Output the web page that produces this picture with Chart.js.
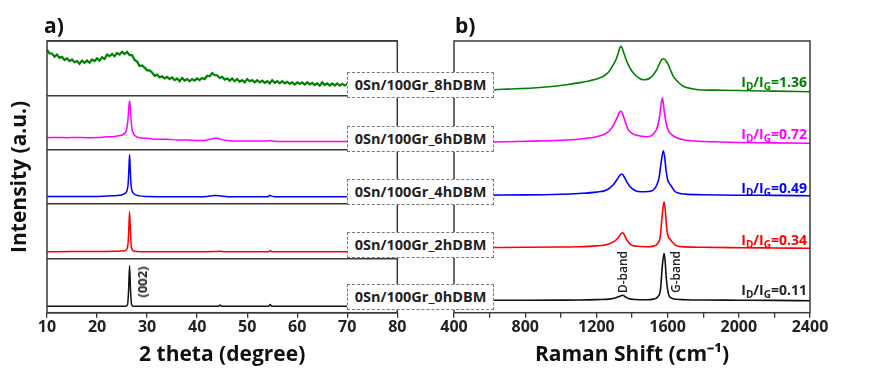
<!DOCTYPE html>
<html>
<head>
<meta charset="utf-8">
<script src="https://cdn.jsdelivr.net/npm/chart.js@4.4.1/dist/chart.umd.min.js"></script>
<style>
  body { margin: 0; background: #fff; font-family: "Open Sans", sans-serif; }
  #wrap { position: relative; width: 870px; height: 377px; overflow: hidden; }
  canvas { position: absolute; top: 0; }
  #xrd { left: 0; }
  #raman { left: 420px; }
  .tag { position: absolute; left: 347px; width: 145px; height: 24px; border: 1px dashed #777; background: #fff;
         color: #222; font-weight: 700; font-size: 14.5px; line-height: 24px; text-align: center; }
  .ratio { position: absolute; right: 63px; font-weight: 700; font-size: 14px; line-height: 16px; transform: translateY(-50%); white-space: nowrap; }
  .ratio sub { font-size: 10px; vertical-align: -3px; line-height: 0; }
  .rot { position: absolute; transform: translate(-50%, -50%) rotate(-90deg); white-space: nowrap; color: #222; }
  .panel { position: absolute; font-size: 21px; font-weight: 700; color: #111; }
</style>
</head>
<body>
<div id="wrap">
  <canvas id="xrd" width="420" height="377"></canvas>
  <canvas id="raman" width="450" height="377"></canvas>
  <div id="overlay"></div>
</div>
<script>
// Noms des échantillons (du bas vers le haut)
const samples = ['0Sn/100Gr_0hDBM', '0Sn/100Gr_2hDBM', '0Sn/100Gr_4hDBM', '0Sn/100Gr_6hDBM', '0Sn/100Gr_8hDBM'];
const ratios = ['0.11', '0.34', '0.49', '0.72', '1.36'];
const colors = ['#111111', '#ff0000', '#0000ff', '#ff00ff', '#008000'];

// DRX : [2theta, intensité] dans chaque sous-panneau (0-100)
const xrd0h = [[10,12],[20,12],[25.8,12],[26.1,15],[26.3,40],[26.5,87],[26.7,40],[26.9,15],[27.2,12],[44.3,12],[44.6,14],[44.9,12],[54.3,12],[54.6,15],[54.9,12],[65,12],[80,12]];
const xrd2h = [[10,12],[15,12.5],[20,12.5],[24,13],[25.5,14],[26.0,18],[26.2,28],[26.35,55],[26.5,86],[26.65,55],[26.8,26],[27.0,16],[27.5,13],[30,12],[40,12],[43.5,12.5],[44.5,13],[45.5,12],[54.3,12],[54.6,14.5],[55,12],[60,12],[70,12],[80,12]];
const xrd4h = [[10,14],[15,14],[20,14],[23,15],[24.5,16],[25.5,19],[26.0,25],[26.2,36],[26.35,60],[26.5,91],[26.65,60],[26.8,34],[27.0,24],[27.5,18],[28.5,15],[30,14],[35,13.5],[40,13.5],[42,14],[43.5,15.5],[44.5,15],[46,13.5],[50,13.5],[54.2,13.5],[54.5,16],[54.8,15],[55.5,13.5],[60,13.5],[70,13.5],[80,13.5]];
const xrd6h = [[10,22],[12,22.5],[14,22],[16,22.5],[18,22],[20,22.5],[21,23],[22,24],[23,24],[24,25],[24.5,26],[25,27],[25.5,30],[25.8,34],[26.0,42],[26.2,58],[26.35,78],[26.5,90],[26.65,78],[26.8,55],[27.0,38],[27.3,29],[27.7,25],[28.5,22],[30,21],[32,19],[34,19],[36,18],[38,18],[40,17],[41,17],[42,18],[42.5,19],[43,20],[43.5,21],[44,21],[44.5,20],[45,18],[46,17],[48,16],[50,16],[52,16],[54,16],[54.6,17],[55,16],[58,15],[60,15],[62,15],[65,15],[70,15],[75,15],[80,15]];
const xrd8h = [[10,84],[10.5,77],[11,77],[11.5,71],[12,75],[12.5,69],[13,71],[13.5,65],[14,68],[14.5,63],[15,66],[15.5,61],[16,63],[16.5,58],[17,64],[17.5,60],[18,64],[18.5,60],[19,66],[19.5,63],
  [20,68],[20.5,64],[21,70],[21.5,67],[22,75],[22.5,72],[23,76],[23.5,72],[24,78],[24.5,75],[25,80],[25.5,76],[26,80],[26.5,74],[27,74],[27.5,65],[28,62],[28.5,54],[29,55],[29.5,51],
  [30,46],[30.5,46],[31,42],[31.5,36],[32,38],[32.5,33],[33,35],[33.5,31],[34,34],[34.5,30],[35,33],[35.5,28],[36,31],[36.5,26],[37,32],[37.5,27],[38,30],[38.5,26],[39,30],[39.5,27],
  [40,31],[40.5,28],[41,32],[41.5,30],[42,36],[42.5,35],[43,41],[43.5,37],[44,37],[44.5,32],[45,34],[45.5,29],[46,31],[46.5,27],[47,31],[47.5,26],[48,30],[48.5,25],[49,28],[49.5,24],
  [50,30],[50.5,26],[51,28],[51.5,24],[52,28],[52.5,24],[53,27],[53.5,23],[54,26],[54.5,22],[55,28],[55.5,23],[56,26],[56.5,22],[57,26],[57.5,22],[58,25],[58.5,21],[59,24],[59.5,20],
  [60,24],[60.5,21],[61,24],[61.5,20],[62,24],[62.5,20],[63,23],[63.5,19],[64,22],[64.5,18],[65,24],[65.5,19],[66,22],[66.5,18],[67,22],[67.5,18],[68,22],[68.5,18],[69,21],[69.5,18],
  [70,21],[72,19],[74,20],[76,18],[78,19],[80,18]];

// Raman : [nombre d'onde, intensité au-dessus de la ligne de base]
const raman0h = [[400,0.4],[600,0.5],[800,0.5],[1000,0.6],[1100,0.7],[1200,1.1],[1280,1.8],[1310,3],[1333,4.5],[1348,5.4],[1362,4],[1380,2.2],[1420,1.2],[1480,1],[1520,1.6],[1545,4],[1560,11],[1570,34],[1580,47.4],[1586,40],[1593,22],[1604,7.4],[1620,2.8],[1650,1.4],[1700,1],[1800,0.7],[2000,0.5],[2200,0.3],[2400,0]];
const raman2h = [[400,0.6],[600,0.8],[800,1],[1000,1.3],[1100,1.5],[1200,2.4],[1260,3.8],[1300,7],[1323,10.5],[1340,15],[1348,15.6],[1358,13],[1372,8],[1395,3.5],[1430,2],[1480,1.6],[1520,2.2],[1545,5],[1558,11],[1569,31.6],[1580,46.6],[1587,38],[1595,20],[1605,11],[1615,9],[1625,6.5],[1650,2.5],[1700,1.4],[1800,1],[2000,0.6],[2200,0.3],[2400,0]];
const raman4h = [[400,0.4],[600,0.6],[800,0.8],[900,1],[1000,1.4],[1100,2.2],[1200,3.6],[1258,5.7],[1295,11],[1314,15.7],[1330,20],[1342,21.7],[1352,20],[1361,17.4],[1375,12.5],[1389,9],[1420,5],[1450,4],[1490,4.2],[1520,5.7],[1540,11],[1552,18],[1563,32.4],[1576,45],[1584,38],[1591,25.7],[1600,16],[1610,12.4],[1623,9],[1640,4.5],[1660,2.8],[1700,1.6],[1800,1],[2000,0.5],[2200,0.3],[2400,0]];
const raman6h = [[400,0.5],[500,1],[619,1.3],[700,1.6],[800,2],[939,2.6],[1030,3.3],[1126,4.6],[1200,6.5],[1239,8.6],[1270,12],[1295,18],[1315,25],[1330,31],[1338,32],[1346,30],[1355,25.3],[1368,18.5],[1379,13.6],[1400,10],[1426,8],[1455,7],[1483,6.6],[1505,7.3],[1520,9.3],[1538,14],[1548,20.3],[1556,28],[1563,38],[1570,45.3],[1576,40],[1581,32],[1588,24],[1594,18],[1607,12],[1623,8.6],[1650,5.5],[1688,3.6],[1730,2.6],[1772,2],[1850,1.5],[2000,0.8],[2200,0.4],[2400,0]];
const raman8h = [[400,1],[500,1.5],[619,2],[700,2.6],[845,3.7],[950,5.2],[1033,7],[1100,8.8],[1164,11],[1210,13.2],[1239,15.4],[1270,20],[1295,27],[1312,33],[1323,38.7],[1336,45.4],[1344,44],[1351,40.4],[1365,33],[1379,27],[1398,21],[1417,17],[1440,13.5],[1464,12],[1485,12.3],[1501,13.7],[1520,17],[1539,22],[1552,27],[1561,30.4],[1571,32.8],[1580,33],[1590,31],[1604,27],[1618,21],[1632,15.4],[1660,9.5],[1688,5.4],[1730,3.2],[1772,2],[1900,1.5],[2063,1],[2200,0.6],[2400,0]];
// Décalage vertical de chaque spectre Raman
const ramanOffsets = [12, 64.4, 117, 169.4, 221];

const xrdTicks = [10, 20, 30, 40, 50, 60, 70, 80];
const ramanTicks = [400, 800, 1200, 1600, 2000, 2400];

const xrdSeries = [xrd0h, xrd2h, xrd4h, xrd6h, xrd8h];
const ramanSeries = [raman0h, raman2h, raman4h, raman6h, raman8h];

const tickFont = { family: 'Open Sans', size: 16, weight: 'bold' };
const titleFont = { family: 'Open Sans', size: 21, weight: 'bold' };

// Cadre autour de la zone de tracé
const framePlugin = {
    id: 'frame',
    afterDraw(chart) {
        const { ctx, chartArea: a } = chart;
        ctx.save();
        ctx.strokeStyle = '#3a3a3a';
        ctx.lineWidth = 1.5;
        ctx.strokeRect(a.left, a.top, a.right - a.left, a.bottom - a.top);
        ctx.restore();
    }
};

function xAxis(min, max, step, ticks, title) {
    return {
        type: 'linear', min: min, max: max,
        ticks: {
            stepSize: step, color: '#222', font: tickFont, padding: 0, maxRotation: 0, autoSkip: false,
            callback: v => ticks.includes(v) ? v : ''
        },
        grid: { drawOnChartArea: false, tickLength: 5, color: '#333', lineWidth: 1.3 },
        border: { display: false },
        title: { display: true, text: title, color: '#111', font: titleFont, padding: { top: 0, bottom: 9 } },
        afterFit(s) { s.height = 64.3; }
    };
}

// Graphique DRX (panneau a)
new Chart(document.getElementById('xrd'), {
    type: 'line',
    data: {
        datasets: xrdSeries.map((s, i) => ({
            data: s.map(p => ({ x: p[0], y: p[1] + i * 100 })),
            borderColor: colors[i],
            borderWidth: i === 4 ? 2.2 : 1.5,
            pointRadius: 0,
            cubicInterpolationMode: i === 4 ? 'default' : 'monotone',
            tension: 0
        }))
    },
    options: {
        responsive: false, animation: false,
        layout: { padding: { top: 41, right: 22.7, bottom: 0, left: 0 } },
        plugins: { legend: { display: false }, tooltip: { enabled: false } },
        scales: {
            x: xAxis(10, 80, 10, xrdTicks, '2 theta (degree)'),
            y: {
                min: 0, max: 500,
                ticks: { stepSize: 100, display: false },
                grid: { drawTicks: false, color: '#3a3a3a', lineWidth: 1.5 },
                border: { display: false },
                title: { display: true, text: 'Intensity (a.u.)', color: '#111', font: titleFont, padding: { top: 7, bottom: 0 } },
                afterFit(s) { s.width = 47; }
            }
        }
    },
    plugins: [framePlugin]
});

// Graphique Raman (panneau b)
new Chart(document.getElementById('raman'), {
    type: 'line',
    data: {
        datasets: ramanSeries.map((s, i) => ({
            data: s.map(p => ({ x: p[0], y: p[1] + ramanOffsets[i] })),
            borderColor: colors[i],
            borderWidth: 1.6,
            pointRadius: 0,
            cubicInterpolationMode: 'monotone'
        }))
    },
    options: {
        responsive: false, animation: false,
        layout: { padding: { top: 41, right: 60, bottom: 0, left: 34 } },
        plugins: { legend: { display: false }, tooltip: { enabled: false } },
        scales: {
            x: xAxis(400, 2400, 200, ramanTicks, ['Raman Shift (cm\u207B\u00B9)']),
            y: { display: false, min: 0, max: 271.7 }
        }
    },
    plugins: [framePlugin]
});

// Étiquettes HTML par-dessus
const overlay = document.getElementById('overlay');
const tagTops = [284, 231.5, 178.5, 126, 72];
const ratioMid = [290, 240, 187.5, 133.5, 82];
let html = '';
samples.forEach((name, i) => {
    html += `<div class="tag" style="top:${tagTops[i]}px">${name}</div>`;
    html += `<div class="ratio" style="top:${ratioMid[i]}px;color:${colors[i] === '#111111' ? '#222' : colors[i]}">I<sub>D</sub>/I<sub>G</sub>=${ratios[i]}</div>`;
});
html += `<div class="panel" style="left:44px;top:11px">a)</div>`;
html += `<div class="panel" style="left:455px;top:11px">b)</div>`;
html += `<div class="rot" style="left:142px;top:282px;font-size:13px;font-weight:700">(002)</div>`;
html += `<div class="rot" style="left:622px;top:272px;font-size:12px;font-weight:600">D-band</div>`;
html += `<div class="rot" style="left:675px;top:272px;font-size:12px;font-weight:600">G-band</div>`;
overlay.innerHTML = html;
</script>
</body>
</html>
